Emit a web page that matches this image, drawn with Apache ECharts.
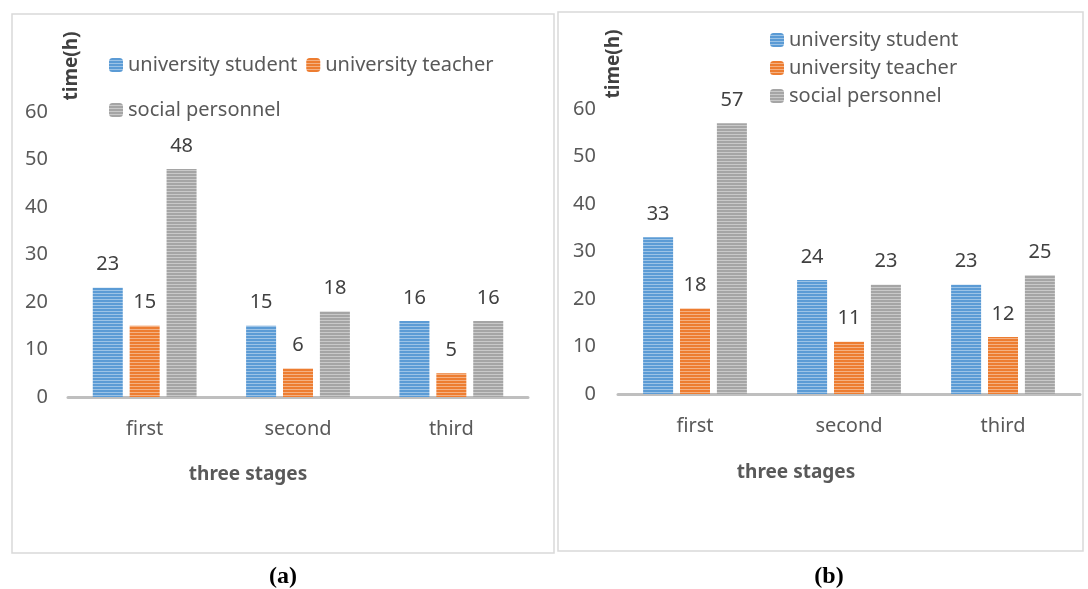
<!DOCTYPE html>
<html>
<head>
<meta charset="utf-8">
<script src="https://cdn.jsdelivr.net/npm/echarts@6/dist/echarts.min.js"></script>
<style>
  html, body { margin: 0; padding: 0; background: #fff; }
  #main { width: 1088px; height: 589px; }
</style>
</head>
<body>
<div id="main"></div>
<script>
// data
var stages = ['first', 'second', 'third'];
var seriesNames = ['university student', 'university teacher', 'social personnel'];
var studentA = [23, 15, 16];
var teacherA = [15, 6, 5];
var socialA = [48, 18, 16];
var studentB = [33, 24, 23];
var teacherB = [18, 11, 12];
var socialB = [57, 23, 25];
var baseColors = ['#5B9BD5', '#ED7D31', '#A5A5A5'];
var FONT = 'Noto Sans';
var FS = 20;

// striped fill like the original bars
function stripe(color) {
    var c = document.createElement('canvas');
    c.width = 8; c.height = 3;
    var ctx = c.getContext('2d');
    ctx.fillStyle = color;
    ctx.fillRect(0, 0, 8, 3);
    ctx.fillStyle = 'rgba(255,255,255,0.4)';
    ctx.fillRect(0, 2, 8, 1);
    return { image: c, repeat: 'repeat' };
}

function makeSeries(name, data, idx, axis) {
    return {
        name: name,
        type: 'bar',
        xAxisIndex: axis,
        yAxisIndex: axis,
        data: data,
        barWidth: 30,
        barGap: '23%',
        itemStyle: { color: stripe(baseColors[idx]) },
        label: {
            show: true,
            position: 'top',
            distance: 13,
            fontFamily: FONT,
            fontSize: FS,
            color: '#404040'
        }
    };
}

function xAxisDef(grid) {
    return {
        type: 'category',
        gridIndex: grid,
        data: stages,
        axisLine: { lineStyle: { color: '#BFBFBF', width: 3 } },
        axisTick: { show: false },
        axisLabel: { fontFamily: FONT, fontSize: FS, color: '#595959', margin: 22 }
    };
}

function yAxisDef(grid, margin) {
    return {
        type: 'value',
        gridIndex: grid,
        min: 0,
        max: 60,
        interval: 10,
        axisLine: { show: false },
        axisTick: { show: false },
        splitLine: { show: false },
        axisLabel: { fontFamily: FONT, fontSize: FS, color: '#595959', margin: margin }
    };
}

function label(txt, x, y, opts) {
    var st = { text: txt, fontFamily: FONT, fontSize: 19, fontWeight: 'bold', fill: '#404040',
               align: 'center', verticalAlign: 'middle' };
    for (var k in opts) st[k] = opts[k];
    return { type: 'text', x: x, y: y, rotation: st.rot || 0, style: st, silent: true };
}

var legendText = { fontFamily: FONT, fontSize: FS, color: '#595959' };

var chart = echarts.init(document.getElementById('main'));
chart.setOption({
    backgroundColor: '#fff',
    animation: false,
    grid: [
        { left: 68, right: 560, top: 112, bottom: 192 },
        { left: 618, right: 8, top: 109, bottom: 195 }
    ],
    xAxis: [xAxisDef(0), xAxisDef(1)],
    yAxis: [yAxisDef(0, 20), yAxisDef(1, 22)],
    legend: [
        {
            data: [seriesNames[0], seriesNames[1]],
            left: 104, top: 50,
            itemWidth: 14, itemHeight: 14, itemGap: 9,
            textStyle: legendText
        },
        {
            data: [seriesNames[2]],
            left: 104, top: 95,
            itemWidth: 14, itemHeight: 14,
            textStyle: legendText
        },
        {
            data: seriesNames,
            orient: 'vertical',
            left: 765, top: 25,
            itemWidth: 14, itemHeight: 14, itemGap: 8,
            textStyle: legendText
        }
    ],
    series: [
        makeSeries(seriesNames[0], studentA, 0, 0),
        makeSeries(seriesNames[1], teacherA, 1, 0),
        makeSeries(seriesNames[2], socialA, 2, 0),
        makeSeries(seriesNames[0], studentB, 0, 1),
        makeSeries(seriesNames[1], teacherB, 1, 1),
        makeSeries(seriesNames[2], socialB, 2, 1)
    ],
    graphic: [
        { type: 'rect', shape: { x: 12, y: 14, width: 542, height: 539 },
          style: { fill: 'none', stroke: '#D9D9D9', lineWidth: 1.5 }, silent: true },
        { type: 'rect', shape: { x: 558, y: 12, width: 525, height: 539 },
          style: { fill: 'none', stroke: '#D9D9D9', lineWidth: 1.5 }, silent: true },
        label('time(h)', 72, 66, { rot: Math.PI / 2 }),
        label('time(h)', 614, 64, { rot: Math.PI / 2 }),
        label('three stages', 248, 475, { fill: '#595959' }),
        label('three stages', 796, 473, { fill: '#595959' }),
        label('(a)', 283, 577, { fontFamily: 'Liberation Serif', fontSize: 24, fill: '#000' }),
        label('(b)', 829, 577, { fontFamily: 'Liberation Serif', fontSize: 24, fill: '#000' })
    ]
});
</script>
</body>
</html>
